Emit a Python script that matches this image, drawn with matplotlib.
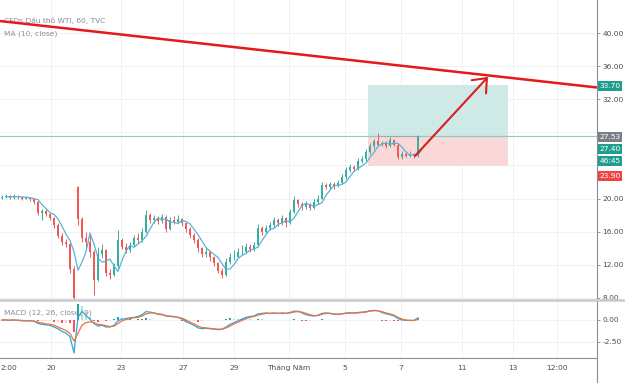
import matplotlib
matplotlib.use('Agg')
import matplotlib.pyplot as plt
from matplotlib.patches import Rectangle
from matplotlib.lines import Line2D
import numpy as np
import pandas as pd

# ---------------- data ----------------
opens = [20.1, 20.2, 20.3, 20.1, 20.3, 20.2, 20.0, 20.1, 19.9, 19.6,
         18.3, 18.5, 18.1, 17.7, 16.8, 15.5, 14.8, 14.5, 11.5, 21.4,
         17.5, 15.2, 14.8, 13.5, 10.2, 13.3, 13.8, 11.0, 10.8, 11.8,
         15.0, 14.2, 13.8, 14.4, 15.3, 15.0, 16.0, 18.0, 17.4, 17.6,
         17.3, 17.8, 16.3, 17.4, 17.2, 17.5, 17.0, 16.3, 15.6, 15.0,
         14.0, 13.3, 13.6, 12.9, 12.2, 11.3, 10.8, 12.4, 12.9, 13.0,
         13.5, 13.6, 14.2, 13.9, 14.4, 16.5, 16.0, 16.4, 16.8, 17.4,
         17.0, 17.6, 17.0, 18.4, 19.8, 19.4, 19.0, 19.3, 18.9, 19.6,
         20.0, 21.6, 21.4, 21.8, 21.5, 21.9, 22.6, 23.5, 23.8, 23.6,
         24.5, 24.8, 25.6, 26.3, 27.0, 26.5, 26.7, 26.4, 27.1, 26.5,
         25.0, 25.4, 25.2, 25.4, 25.1]
highs = [20.4, 20.5, 20.4, 20.5, 20.4, 20.3, 20.3, 20.2, 20.0, 19.7,
         18.8, 18.7, 18.3, 17.8, 17.0, 15.8, 15.1, 14.6, 11.8, 21.5,
         17.8, 16.0, 15.6, 13.8, 14.2, 14.5, 13.9, 11.5, 12.2, 16.2,
         15.3, 14.6, 14.8, 15.6, 15.8, 16.4, 18.6, 18.2, 18.0, 17.9,
         18.1, 18.0, 17.8, 17.9, 18.0, 17.7, 17.2, 16.6, 15.9, 15.2,
         14.2, 14.0, 13.8, 13.1, 12.4, 11.6, 12.8, 13.4, 13.8, 14.0,
         14.4, 14.6, 14.5, 14.8, 16.9, 16.7, 16.8, 17.2, 17.8, 17.6,
         18.0, 17.8, 18.7, 20.3, 20.0, 19.6, 19.7, 19.5, 19.9, 20.4,
         22.0, 21.9, 22.0, 22.0, 22.2, 23.0, 23.8, 24.2, 24.1, 24.9,
         25.1, 26.0, 26.7, 27.2, 27.9, 27.0, 26.9, 27.4, 27.2, 26.7,
         25.7, 25.6, 25.7, 25.5, 27.7]
lows = [20.0, 20.1, 19.9, 20.0, 20.0, 19.8, 19.9, 19.7, 19.4, 18.0,
        17.4, 17.9, 17.4, 16.4, 15.2, 14.4, 14.2, 11.0, 6.5, 16.8,
        14.8, 13.8, 13.0, 8.4, 10.0, 12.8, 10.6, 10.3, 10.6, 11.6,
        13.9, 13.4, 13.5, 14.1, 14.6, 14.8, 15.8, 17.0, 17.0, 16.9,
        17.1, 16.0, 16.2, 16.9, 17.0, 16.7, 16.0, 15.3, 14.6, 13.6,
        13.0, 13.0, 12.5, 11.9, 11.0, 10.4, 10.6, 12.1, 12.6, 12.8,
        13.2, 13.4, 13.6, 13.7, 14.2, 15.6, 15.8, 16.2, 16.6, 16.7,
        16.8, 16.6, 16.9, 18.2, 19.0, 18.6, 18.8, 18.6, 18.8, 19.4,
        19.9, 21.1, 21.2, 21.2, 21.4, 21.8, 22.4, 23.2, 23.3, 23.5,
        24.3, 24.6, 25.4, 26.0, 26.3, 26.3, 26.1, 26.2, 26.3, 24.8,
        24.8, 25.0, 25.0, 24.9, 25.0]
closes = [20.2, 20.3, 20.1, 20.3, 20.2, 20.0, 20.1, 19.9, 19.6, 18.3,
          18.5, 18.1, 17.7, 16.8, 15.5, 14.8, 14.5, 11.5, 8.0, 17.5,
          15.2, 14.8, 13.5, 10.2, 13.3, 13.8, 11.0, 10.8, 11.8, 15.0,
          14.2, 13.8, 14.4, 15.3, 15.0, 16.0, 18.0, 17.4, 17.6, 17.3,
          17.8, 16.3, 17.4, 17.2, 17.5, 17.0, 16.3, 15.6, 15.0, 14.0,
          13.3, 13.6, 12.9, 12.2, 11.3, 10.8, 12.4, 12.9, 13.0, 13.5,
          13.6, 14.2, 13.9, 14.4, 16.5, 16.0, 16.4, 16.8, 17.4, 17.0,
          17.6, 17.0, 18.4, 19.8, 19.4, 19.0, 19.3, 18.9, 19.6, 20.0,
          21.6, 21.4, 21.8, 21.5, 21.9, 22.6, 23.5, 23.8, 23.6, 24.5,
          24.8, 25.6, 26.3, 27.0, 26.5, 26.7, 26.4, 27.1, 26.5, 25.0,
          25.4, 25.2, 25.4, 25.1, 27.53]
macd_line = [0.0, 0.0, -0.05, 0.0, -0.05, -0.1, -0.1, -0.1, -0.15, -0.4,
             -0.5, -0.55, -0.6, -0.8, -1.0, -1.3, -1.5, -1.9, -3.75, 0.3,
             1.0, 0.5, 0.1, -0.4, -0.7, -0.6, -0.8, -0.8, -0.6, -0.1,
             0.1, 0.15, 0.25, 0.3, 0.4, 0.6, 0.95, 0.9, 0.8, 0.65,
             0.6, 0.45, 0.4, 0.35, 0.3, 0.1, -0.2, -0.4, -0.6, -0.9,
             -1.0, -0.95, -1.0, -1.05, -1.1, -1.05, -0.8, -0.5, -0.3, -0.1,
             0.1, 0.3, 0.4, 0.45, 0.7, 0.75, 0.8, 0.75, 0.8, 0.75,
             0.8, 0.75, 0.85, 1.0, 1.0, 0.8, 0.6, 0.5, 0.45, 0.55,
             0.75, 0.8, 0.75, 0.65, 0.65, 0.7, 0.8, 0.8, 0.8, 0.85,
             0.9, 0.95, 1.05, 1.1, 1.05, 0.85, 0.7, 0.6, 0.45, 0.15,
             0.0, -0.05, -0.05, -0.05, 0.25]
signal_line = [0.0, 0.0, 0.0, 0.0, -0.02, -0.05, -0.08, -0.1, -0.12, -0.25,
               -0.35, -0.45, -0.5, -0.6, -0.8, -1.0, -1.2, -1.5, -2.4, -1.5,
               -0.6, -0.3, -0.2, -0.3, -0.5, -0.55, -0.65, -0.75, -0.7, -0.4,
               -0.1, 0.05, 0.15, 0.25, 0.3, 0.45, 0.7, 0.8, 0.8, 0.7,
               0.65, 0.5, 0.45, 0.4, 0.3, 0.2, 0.0, -0.25, -0.45, -0.7,
               -0.85, -0.9, -0.95, -1.0, -1.05, -1.05, -0.9, -0.7, -0.45, -0.25,
               -0.05, 0.15, 0.3, 0.4, 0.55, 0.65, 0.75, 0.75, 0.75, 0.75,
               0.75, 0.75, 0.8, 0.9, 0.95, 0.9, 0.75, 0.6, 0.5, 0.5,
               0.65, 0.75, 0.75, 0.7, 0.65, 0.7, 0.75, 0.8, 0.8, 0.8,
               0.85, 0.9, 1.0, 1.05, 1.05, 0.95, 0.8, 0.7, 0.55, 0.3,
               0.1, 0.0, -0.05, -0.05, 0.05]

price_ticks = [8, 12, 16, 20, 24, 28, 32, 36, 40]
price_tick_labels = ['8.00', '12.00', '16.00', '20.00', '', '', '32.00', '36.00', '40.00']
macd_ticks = [0.0, -2.5]
macd_tick_labels = ['0.00', '-2.50']
time_tick_pos = [12.25, 29.75, 45.25, 58.0, 71.75, 85.75, 99.75, 115.0, 127.75, 138.75]
time_tick_labels = ['20', '23', '27', '29', 'Tháng Năm', '5', '7', '11', '13', '12:00']
left_edge_label = '2:00'

title_text = 'CFDs Dầu thô WTI, 60, TVC'
ma_text = 'MA (10, close)'
macd_text = 'MACD (12, 26, close, 9)'

trend_x = [-0.5, 148.75]
trend_y = [41.45, 33.42]
entry_price = 27.53
target_price = 33.70
stop_price = 23.90
box_x = [91.5, 126.5]
arrow_start = (103.25, 25.15)
arrow_end = (121.5, 34.7)
ma_value = 27.40
countdown = '46:45'

# ---------------- layout ----------------
W, H = 625, 383
fig = plt.figure(figsize=(W / 100, H / 100), dpi=100)
fig.patch.set_facecolor('white')


def fx(px):
    return px / W


def fy(py):
    return 1 - py / H


ax = fig.add_axes([0, fy(300), fx(597), fy(0) - fy(300)])
axm = fig.add_axes([0, fy(358), fx(597), fy(300) - fy(358)], sharex=ax)

UP = '#3aae9f'
DOWN = '#ef5a56'
GRID = '#eef1f5'
TXT = '#4a4e58'
FS = 5.4

x = np.arange(len(closes))
ax.set_xlim(-0.5, 148.75)
ax.set_ylim(7.75, 43.99)
axm.set_ylim(-4.32, 2.27)

for a in (ax, axm):
    for s in a.spines.values():
        s.set_visible(False)
    a.set_facecolor('none')

# grids
for p in price_ticks:
    ax.axhline(p, color=GRID, lw=0.7, zorder=0)
for t in time_tick_pos:
    ax.axvline(t, color=GRID, lw=0.7, zorder=0)
    axm.axvline(t, color=GRID, lw=0.7, zorder=0)
for m in macd_ticks:
    axm.axhline(m, color=GRID, lw=0.7, zorder=0)

# position tool
ax.add_patch(Rectangle((box_x[0], entry_price), box_x[1] - box_x[0], target_price - entry_price,
                       facecolor='#cfeae6', edgecolor='none', zorder=1))
ax.add_patch(Rectangle((box_x[0], stop_price), box_x[1] - box_x[0], entry_price - stop_price,
                       facecolor='#fbd8d8', edgecolor='none', zorder=1))
ax.plot(box_x, [entry_price, entry_price], color='#b8b8b8', lw=0.8, zorder=1.5)

# last price line
ax.axhline(entry_price, color='#8ccac3', lw=0.8, zorder=1.6)

# candles
for i in x:
    o, h, l, c = opens[i], highs[i], lows[i], closes[i]
    col = UP if c >= o else DOWN
    ax.vlines(i, l, h, color=col, lw=0.7, zorder=3)
    ax.add_patch(Rectangle((i - 0.3, min(o, c)), 0.6, max(abs(c - o), 0.05),
                           facecolor=col, edgecolor='none', zorder=3))

# MA
ma = pd.Series(closes).rolling(3, min_periods=1).mean()
ax.plot(x + 1.0, ma, color='#58b3db', lw=0.9, zorder=4)

# dotted line to current price
ax.plot([94, 104], [entry_price, entry_price], color='#999999', lw=0.7, ls=(0, (1.5, 1.5)), zorder=4)

# trend line
ax.plot(trend_x, trend_y, color='#e5181b', lw=1.8, zorder=6, solid_capstyle='butt')

# arrow
ax.annotate('', xy=arrow_end, xytext=arrow_start,
            arrowprops=dict(arrowstyle='->,head_length=0.85,head_width=0.7', color='#d91e1e',
                            lw=1.5, shrinkA=0, shrinkB=0), zorder=6)

# legend texts
ax.text(fx(4), fy(20), title_text, transform=fig.transFigure, fontsize=FS, color='#8a8d95',
        ha='left', va='center', zorder=5)
ax.text(fx(4), fy(34), ma_text, transform=fig.transFigure, fontsize=FS, color='#8a8d95',
        ha='left', va='center', zorder=5)

# price axis ticks
ax.yaxis.tick_right()
ax.set_yticks(price_ticks)
ax.set_yticklabels(price_tick_labels)
ax.tick_params(axis='y', which='both', direction='out', length=2.5, width=0.6, color='#888888',
               labelsize=FS, labelcolor=TXT, pad=1.5, left=False)
ax.tick_params(axis='x', which='both', bottom=False, labelbottom=False)

# MACD panel
macd = np.array(macd_line)
sig = np.array(signal_line)
hist = macd - sig
hcols = []
for i, hv in enumerate(hist):
    prev = hist[i - 1] if i > 0 else 0
    if hv >= 0:
        hcols.append('#26a69a' if hv >= prev else '#b2dfdb')
    else:
        hcols.append('#ff5252' if hv < prev else '#ffcdd2')
axm.bar(x, hist, width=0.55, color=hcols, zorder=2)
axm.plot(x, macd, color='#2fa7df', lw=0.9, zorder=3)
axm.plot(x, sig, color='#f0723c', lw=0.9, zorder=3)
axm.text(fx(4), fy(313), macd_text, transform=fig.transFigure, fontsize=FS, color='#8a8d95',
         ha='left', va='center', zorder=5)

axm.yaxis.tick_right()
axm.set_yticks(macd_ticks)
axm.set_yticklabels(macd_tick_labels)
axm.tick_params(axis='y', direction='out', length=2.5, width=0.6, color='#888888',
                labelsize=FS, labelcolor=TXT, pad=1.5, left=False)
axm.set_xticks(time_tick_pos)
axm.set_xticklabels(time_tick_labels)
axm.tick_params(axis='x', length=0, labelsize=FS, labelcolor=TXT, pad=5)
fig.text(fx(0.5), fy(368), left_edge_label, fontsize=FS, color=TXT, ha='left', va='center')

# frame lines
fig.add_artist(Line2D([fx(597), fx(597)], [0, 1], color='#8a8e97', lw=0.8))
fig.add_artist(Line2D([0, fx(597)], [fy(358), fy(358)], color='#8a8e97', lw=0.8))
fig.add_artist(Line2D([0, 1], [fy(300), fy(300)], color='#c8cacf', lw=1.8))

# price labels on the scale
def scale_label(py, txt, fc):
    fig.text(fx(599.5), fy(py), txt, fontsize=FS, color='white', ha='left', va='center',
             bbox=dict(boxstyle='square,pad=0.22', fc=fc, ec='none'), zorder=10)

scale_label(86, f'{target_price:.2f}', '#1f9e8f')
scale_label(137, f'{entry_price:.2f}', '#7a7e88')
scale_label(149, f'{ma_value:.2f}', '#1f9e8f')
scale_label(161, countdown, '#1f9e8f')
scale_label(176, f'{stop_price:.2f}', '#ef4444')

fig.savefig('out.png', dpi=100, facecolor='white')
